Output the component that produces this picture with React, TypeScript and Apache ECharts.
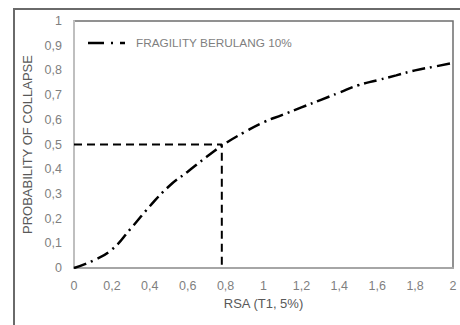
import React, { useEffect, useRef } from "react";
import * as echarts from "echarts";

const rsaValues = [0, 0.1, 0.2, 0.3, 0.4, 0.5, 0.6, 0.7, 0.8, 0.9, 1.0, 1.1, 1.2, 1.3, 1.4, 1.5, 1.6, 1.7, 1.8, 1.9, 2.0];
const probValues = [0, 0.03, 0.075, 0.16, 0.25, 0.33, 0.39, 0.45, 0.505, 0.55, 0.59, 0.62, 0.65, 0.68, 0.71, 0.74, 0.76, 0.78, 0.8, 0.815, 0.83];
const seriesName = "FRAGILITY BERULANG 10%";
const medianX = [0, 0.78, 0.78];
const medianY = [0.5, 0.5, 0];
const xTitle = "RSA (T1, 5%)";
const yTitle = "PROBABILITY OF COLLAPSE";

const FONT = "Liberation Sans";

export default function App() {
  const ref = useRef<HTMLDivElement>(null);
  useEffect(() => {
    const chart = echarts.init(ref.current!, null, { renderer: "svg" });
    const fmt = (v: number) => String(Number(v.toFixed(1))).replace(".", ",");
    chart.setOption({
      animation: false,
      backgroundColor: "#ffffff",
      textStyle: { fontFamily: FONT },
      graphic: {
        elements: [
          {
            type: "line",
            shape: { x1: 88, y1: 43, x2: 133, y2: 43 },
            style: { stroke: "#000000", lineWidth: 2.5, lineDash: [16, 7, 2, 7, 5, 30] },
            silent: true,
            z: 10,
          },
          {
            type: "text",
            x: 136,
            y: 43,
            style: {
              text: seriesName,
              fill: "#7f7f7f",
              fontSize: 11.8,
              fontFamily: FONT,
              verticalAlign: "middle",
            },
            silent: true,
            z: 10,
          },
        ],
      },
      grid: {
        left: 74,
        top: 21,
        right: 7,
        bottom: 57,
        show: true,
        borderColor: "#6e6e6e",
        borderWidth: 1.5,
      },
      xAxis: {
        type: "value",
        min: 0,
        max: 2,
        interval: 0.2,
        name: xTitle,
        nameLocation: "middle",
        nameGap: 29,
        nameTextStyle: { color: "#595959", fontSize: 13, fontFamily: FONT },
        axisLine: { show: true, lineStyle: { color: "#a6a6a6", width: 2 } },
        axisTick: { show: false },
        splitLine: { show: false },
        axisLabel: { color: "#7f7f7f", fontSize: 12.5, margin: 11, formatter: fmt },
      },
      yAxis: {
        type: "value",
        min: 0,
        max: 1,
        interval: 0.1,
        name: yTitle,
        nameLocation: "middle",
        nameGap: 34,
        nameTextStyle: { color: "#595959", fontSize: 13, fontFamily: FONT },
        axisLine: { show: true, lineStyle: { color: "#bfbfbf", width: 2 } },
        axisTick: { show: false },
        splitLine: { show: false },
        axisLabel: { color: "#7f7f7f", fontSize: 12.5, margin: 12, formatter: fmt },
      },
      series: [
        {
          name: seriesName,
          type: "line",
          data: rsaValues.map((x, i) => [x, probValues[i]]),
          smooth: true,
          showSymbol: false,
          symbol: "none",
          lineStyle: { color: "#000000", width: 2.5, type: [13, 5, 2, 5] },
          itemStyle: { color: "#000000" },
          z: 3,
        },
        {
          name: "median",
          type: "line",
          data: medianX.map((x, i) => [x, medianY[i]]),
          showSymbol: false,
          symbol: "none",
          lineStyle: { color: "#000000", width: 2, type: [8, 5] },
          z: 2,
        },
      ],
    });
    return () => chart.dispose();
  }, []);
  return (
    <div style={{ position: "fixed", left: 0, top: 0, width: 460, height: 325, overflow: "hidden", background: "#fff" }}>
      <div ref={ref} style={{ position: "absolute", left: 0, top: 0, width: 460, height: 325 }} />
      <div
        style={{
          position: "absolute",
          left: 13,
          top: 8,
          width: 480,
          height: 340,
          borderLeft: "2px solid #6a6a6a",
          borderTop: "2px solid #6a6a6a",
          pointerEvents: "none",
          boxSizing: "border-box",
        }}
      />
    </div>
  );
}
